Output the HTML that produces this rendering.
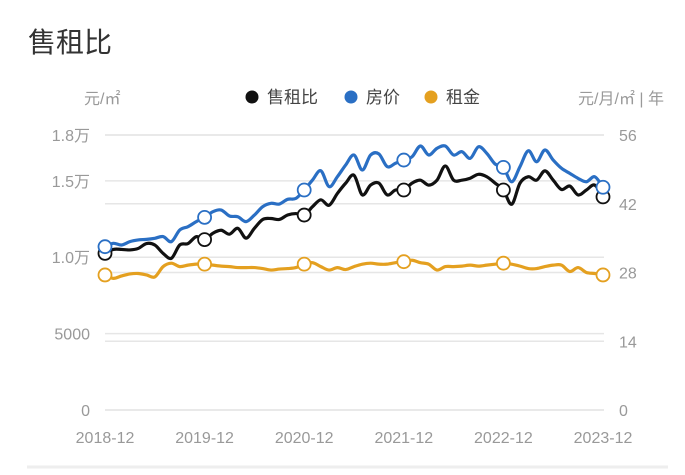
<!DOCTYPE html>
<html><head><meta charset="utf-8"><style>
body{margin:0;background:#fff;width:685px;height:470px;overflow:hidden;font-family:"Liberation Sans","Noto Sans CJK SC",sans-serif}
</style></head><body>
<svg width="685" height="470" xmlns="http://www.w3.org/2000/svg">
<text x="28" y="52" font-size="28" fill="#333" font-family="Liberation Sans, Noto Sans CJK SC, sans-serif">售租比</text>
<text x="84" y="104" font-size="16" fill="#999" font-family="Liberation Sans, Noto Sans CJK SC, sans-serif">元/㎡</text>
<text x="664" y="104" font-size="16" fill="#999" text-anchor="end" font-family="Liberation Sans, Noto Sans CJK SC, sans-serif">元/月/㎡ | 年</text>
<g font-size="17" fill="#444" font-family="Liberation Sans, Noto Sans CJK SC, sans-serif">
<g><circle cx="252" cy="97" r="6.5" fill="#111"/><text x="267" y="103">售租比</text></g>
<g><circle cx="351" cy="97" r="6.5" fill="#2a6fc4"/><text x="366" y="103">房价</text></g>
<g><circle cx="431" cy="97" r="6.5" fill="#e4a020"/><text x="446" y="103">租金</text></g>
</g>
<g id="grid"></g>
<g id="ticks"></g>
<g id="series"></g>
<line x1="27" y1="467" x2="668" y2="467" stroke="#eee" stroke-width="3"/>
</svg>
<script>
const xLabels=["2018-12","2019-12","2020-12","2021-12","2022-12","2023-12"];
const leftTicks=[0,5000,10000,15000,18000];
const leftTickLabels=["0","5000","1.0万","1.5万","1.8万"];
const rightTicks=[0,14,28,42,56];
const price=[10690,10910,10800,11020,11130,11170,11240,11350,11020,11780,12000,12330,12610,12980,13090,12700,12650,12330,12760,13310,13530,13480,13790,13850,14400,15050,15660,14620,15270,16040,16690,15710,16690,16760,15930,16150,16360,16580,17280,16690,17130,17280,16690,16910,16470,17230,16800,16100,15880,14940,15930,16970,16250,17020,16360,15820,15490,15160,14940,15270,14580];
const ratio=[31.9,32.7,32.7,32.6,32.9,33.9,33.6,31.9,30.9,33.6,33.9,35.3,34.7,36.0,36.6,35.8,37.0,35.0,37.0,38.8,39.0,38.8,39.7,40.0,39.7,41.4,42.8,41.7,44.1,46.2,47.8,43.8,45.8,46.2,43.8,44.8,44.8,46.2,46.8,45.8,46.8,49.7,46.8,46.8,47.2,48.0,47.5,46.2,44.8,41.9,46.2,47.5,46.8,48.7,46.8,44.9,45.6,43.8,44.8,45.8,43.4];
const rent=[27.5,26.8,27.3,27.7,27.8,27.5,27.1,29.2,29.9,29.2,29.5,29.7,29.7,29.5,29.3,29.2,29.0,29.0,29.0,28.8,28.5,28.7,28.8,29.0,29.7,30.0,29.2,28.5,29.0,28.6,29.2,29.7,29.9,29.7,29.7,30.0,30.2,30.5,30.0,29.7,28.5,29.2,29.2,29.3,29.5,29.3,29.5,29.7,29.9,29.7,29.3,28.8,28.8,29.2,29.5,29.5,28.2,29.0,28.0,27.8,27.5];
const NS="http://www.w3.org/2000/svg";
const X0=105,X1=603,Y0=410,Y1=135;
const xs=i=>X0+(X1-X0)*i/60;
const yl=v=>Y0-(Y0-Y1)*v/18000;
const yr=v=>Y0-(Y0-Y1)*v/56;
function mk(tag,attrs,parent){const e=document.createElementNS(NS,tag);for(const k in attrs)e.setAttribute(k,attrs[k]);parent.appendChild(e);return e;}
const grid=document.getElementById('grid'),ticks=document.getElementById('ticks'),series=document.getElementById('series');
leftTicks.forEach((t,i)=>{
 const l=mk('line',{x1:X0,x2:X1+1,y1:yl(t),y2:yl(t),stroke:'#e6e6e6','stroke-width':1.5},grid);
 
 
 const tx=mk('text',{x:90,y:yl(t)+6,'font-size':16,fill:'#999','text-anchor':'end'},ticks);
 tx.textContent=leftTickLabels[i];
 
 
});
rightTicks.forEach(t=>{
 const l=mk('line',{x1:X0,x2:X1+1,y1:yr(t),y2:yr(t),stroke:'#e6e6e6','stroke-width':1.5},grid);
 
 
 const tx=mk('text',{x:619,y:yr(t)+6,'font-size':16,fill:'#999'},ticks);
 tx.textContent=String(t);
 
 
});
xLabels.forEach((s,i)=>{
 const tx=mk('text',{x:xs(i*12),y:443,'font-size':16,fill:'#999','text-anchor':'middle'},ticks);
 tx.textContent=s;
 
 
});
function smooth(pts){let d='M'+pts[0][0]+','+pts[0][1];for(let i=0;i<pts.length-1;i++){const p0=pts[i-1]||pts[i],p1=pts[i],p2=pts[i+1],p3=pts[i+2]||p2;const c1=[p1[0]+(p2[0]-p0[0])/6,p1[1]+(p2[1]-p0[1])/6],c2=[p2[0]-(p3[0]-p1[0])/6,p2[1]-(p3[1]-p1[1])/6];d+=`C${c1[0]},${c1[1]} ${c2[0]},${c2[1]} ${p2[0]},${p2[1]}`;}return d;}
function draw(data,yf,color,name){
 const pts=data.map((v,i)=>[xs(i),yf(v)]);
 const p=mk('path',{d:smooth(pts),fill:'none',stroke:color,'stroke-width':3.2,'stroke-linejoin':'round'},series);
 
 
 for(let i=0;i<data.length;i+=12){
  const c=mk('circle',{cx:pts[i][0],cy:pts[i][1],r:6.5,fill:'#fff',stroke:color,'stroke-width':1.8},series);
  
  
 }
}
draw(rent,yr,'#e4a020','rent');
draw(ratio,yr,'#111','ratio');
draw(price,yl,'#2a6fc4','price');
</script>
</body></html>
